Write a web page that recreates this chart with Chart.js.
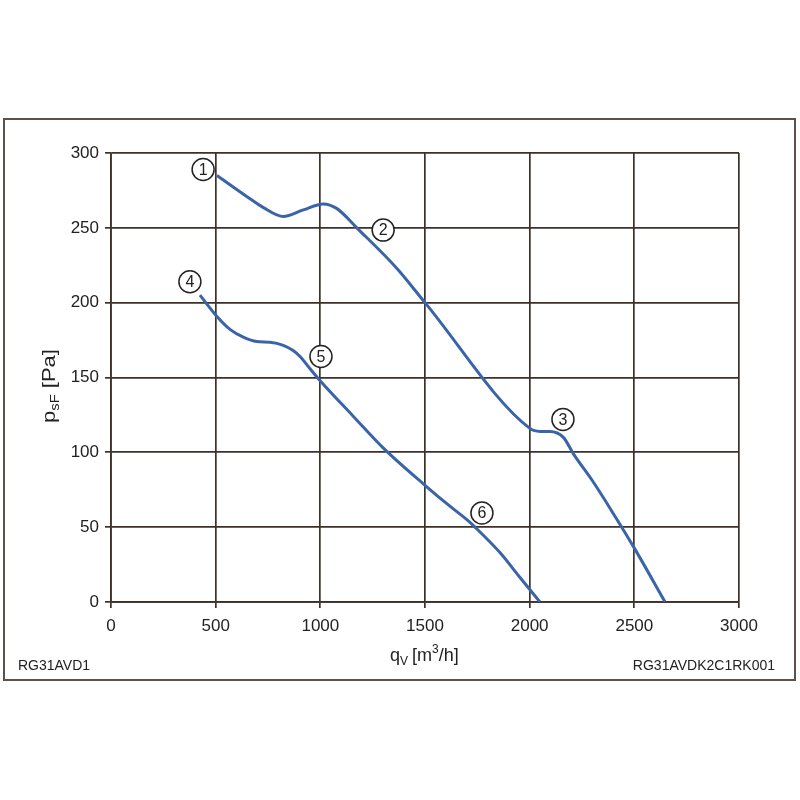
<!DOCTYPE html>
<html>
<head>
<meta charset="utf-8">
<script src="https://cdn.jsdelivr.net/npm/chart.js@4/dist/chart.umd.min.js"></script>
<style>
html, body { margin: 0; padding: 0; background: #fff; }
</style>
</head>
<body>
<canvas id="fan" width="800" height="800"></canvas>
<script>
// curve 1-2-3
let flowA = [506, 648, 728, 823, 919, 1014, 1078, 1174, 1365, 1500, 2001, 2050, 2097, 2161, 2209, 2300, 2400, 2500, 2647];
let pressA = [285, 271, 263.5, 257.5, 262, 266, 263, 250, 223, 200, 116, 114, 114, 110, 99, 81, 59, 36, 0];
// curve 4-5-6
let flowB = [425, 505, 570, 632, 696, 760, 823, 870, 903, 950, 998, 1158, 1300, 1500, 1619, 1700, 1739, 1858, 1950, 2049];
let pressB = [205, 191, 182, 177, 174, 173.5, 171.5, 168, 164, 156, 148, 124, 103, 78, 64, 55, 50, 33, 17, 0];

// circled point numbers (data units)
let markNames = ['1', '2', '3', '4', '5', '6'];
let markX = [440, 1300, 2159, 377, 1003, 1772];
let markY = [289, 248.5, 122, 214, 164, 59.5];

const gridColor = '#3d3128';
const lineColor = '#3a64a8';
const fontFam = '"Liberation Sans", Arial, sans-serif';

const toPts = (xs, ys) => xs.map((x, i) => ({x: x, y: ys[i]}));

const extras = {
    id: 'extras',
    afterDraw(chart) {
        const ctx = chart.ctx;
        const sx = chart.scales.x, sy = chart.scales.y;
        ctx.save();
        // outer frame
        ctx.strokeStyle = '#5b524b';
        ctx.lineWidth = 2;
        ctx.strokeRect(4, 119, 791, 561);

        // circled numbers
        ctx.font = '16px ' + fontFam;
        ctx.textAlign = 'center';
        ctx.textBaseline = 'middle';
        markNames.forEach((n, i) => {
            const px = sx.getPixelForValue(markX[i]);
            const py = sy.getPixelForValue(markY[i]);
            ctx.beginPath();
            ctx.arc(px, py, 11, 0, Math.PI * 2);
            ctx.fillStyle = '#fff';
            ctx.fill();
            ctx.strokeStyle = '#222';
            ctx.lineWidth = 1.5;
            ctx.stroke();
            ctx.fillStyle = '#222';
            ctx.fillText(n, px, py + 1);
        });

        // x title: qV [m3/h]
        ctx.fillStyle = '#222';
        ctx.textAlign = 'left';
        ctx.textBaseline = 'alphabetic';
        let x0 = 390, yb = 661;
        ctx.font = '18px ' + fontFam;
        ctx.fillText('q', x0, yb);
        x0 += ctx.measureText('q').width;
        ctx.font = '12px ' + fontFam;
        ctx.fillText('V', x0, yb + 4);
        x0 += ctx.measureText('V').width + 4;
        ctx.font = '18px ' + fontFam;
        ctx.fillText('[m', x0, yb);
        x0 += ctx.measureText('[m').width;
        ctx.font = '12px ' + fontFam;
        ctx.fillText('3', x0, yb - 8);
        x0 += ctx.measureText('3').width;
        ctx.font = '18px ' + fontFam;
        ctx.fillText('/h]', x0, yb);

        // y title: psF [Pa]
        ctx.save();
        ctx.translate(55, 423);
        ctx.rotate(-Math.PI / 2);
        ctx.font = '18px ' + fontFam;
        const wP = ctx.measureText('p').width;
        const wB = ctx.measureText('[Pa]').width;
        ctx.font = '12px ' + fontFam;
        const wS = ctx.measureText('sF').width;
        const total = wP + wS + 5 + wB;
        ctx.scale(74 / total, 1);
        let t = 0;
        ctx.font = '18px ' + fontFam;
        ctx.fillText('p', t, 0);
        t += wP;
        ctx.font = '12px ' + fontFam;
        ctx.fillText('sF', t, 4);
        t += wS + 5;
        ctx.font = '18px ' + fontFam;
        ctx.fillText('[Pa]', t, 0);
        ctx.restore();

        // footer codes
        ctx.font = '14px ' + fontFam;
        ctx.fillText('RG31AVD1', 18, 670);
        ctx.textAlign = 'right';
        ctx.fillText('RG31AVDK2C1RK001', 775, 670);
        ctx.restore();
    }
};

const fan = document.getElementById('fan').getContext('2d');
const fanChart = new Chart(fan, {
    type: 'line',
    data: {
        datasets: [
            {
                label: 'curve 1-3',
                data: toPts(flowA, pressA),
                borderColor: lineColor,
                borderWidth: 3,
                pointRadius: 0,
                fill: false,
                cubicInterpolationMode: 'monotone'
            },
            {
                label: 'curve 4-6',
                data: toPts(flowB, pressB),
                borderColor: lineColor,
                borderWidth: 3,
                pointRadius: 0,
                fill: false,
                cubicInterpolationMode: 'monotone'
            }
        ]
    },
    options: {
        responsive: false,
        animation: false,
        layout: {
            padding: {left: 0, top: 153, right: 61, bottom: 0}
        },
        scales: {
            x: {
                type: 'linear',
                min: 0,
                max: 3000,
                afterFit: (s) => { s.height = 198; },
                ticks: {
                    stepSize: 500,
                    color: '#222',
                    padding: 8,
                    maxRotation: 0,
                    font: {family: fontFam, size: 17},
                    callback: (v) => String(v)
                },
                grid: {
                    color: gridColor,
                    lineWidth: 1.7,
                    tickLength: 6
                },
                border: {color: gridColor, width: 1.7}
            },
            y: {
                min: 0,
                max: 300,
                afterFit: (s) => { s.width = 111; },
                ticks: {
                    stepSize: 50,
                    color: '#222',
                    padding: 6,
                    font: {family: fontFam, size: 17},
                    callback: (v) => String(v)
                },
                grid: {
                    color: gridColor,
                    lineWidth: 1.7,
                    tickLength: 6
                },
                border: {color: gridColor, width: 1.7}
            }
        },
        plugins: {
            legend: {display: false},
            tooltip: {enabled: false}
        }
    },
    plugins: [extras]
});
</script>
</body>
</html>
